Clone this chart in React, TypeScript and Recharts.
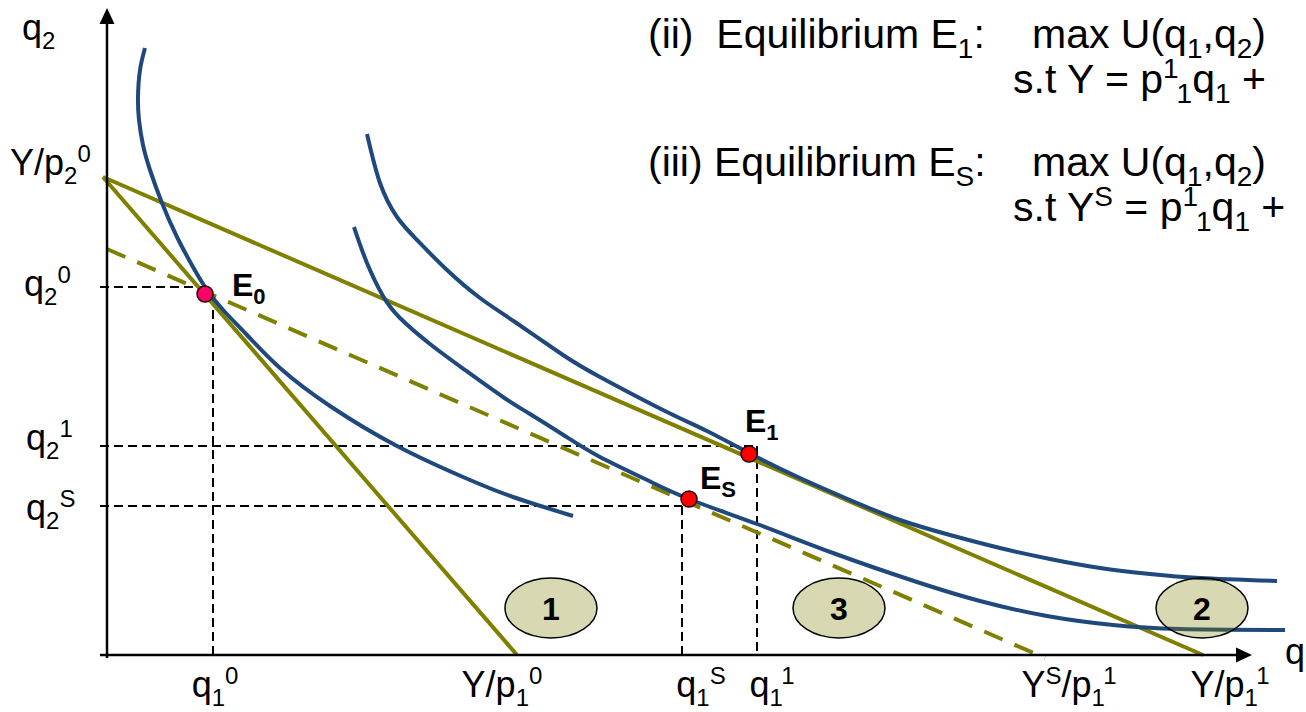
import React from 'react';
import { ComposedChart, Line, Scatter, XAxis, YAxis } from 'recharts';

const W = 1306;
const H = 712;
const X_DOMAIN: [number, number] = [-107, 1199];
const Y_DOMAIN: [number, number] = [-57, 655];
const FONT = '"Liberation Sans", Arial, Helvetica, sans-serif';
const BLUE = '#1F497D';
const OLIVE = '#808000';

// key quantities (chart units, origin where the axes cross)
const Y_OVER_P2_0 = 478;
const Y_OVER_P1_0 = 410;
const Y_OVER_P1_1 = 1096;
const YS_OVER_P1_1 = 938;
const YS_OVER_P2 = 406;
const Q1_0 = 106;
const Q2_0 = 368;
const Q1_1 = 650;
const Q2_1 = 209;
const Q1_S = 575;
const Q2_S = 149;

// indifference curves
const ic0 = [
  [38, 607], [33, 585], [31, 558], [32, 535], [36, 510], [43, 485], [55, 452], [70, 418], [86, 388], [100, 365],
  [117, 344], [140, 320], [173, 287], [223, 249], [290, 209], [356, 178], [406, 158], [466, 139],
];
const icS = [
  [247, 428], [260, 392], [276, 359], [293, 337], [323, 311], [358, 285], [396, 258], [423, 241],
  [458, 219], [493, 198], [538, 176], [582, 156], [650, 131], [726, 102], [810, 73], [873, 54],
  [940, 39], [1006, 30], [1073, 26], [1178, 25],
];
const ic1 = [
  [260, 521], [273, 472], [290, 438], [310, 415], [340, 385], [373, 357], [408, 333], [456, 300],
  [493, 278], [558, 244], [600, 224], [642, 202], [693, 177], [743, 155], [793, 135], [843, 120],
  [893, 107], [943, 96], [993, 87], [1043, 81], [1093, 77], [1170, 74],
];

// budget lines
const budget0 = [[-4, Y_OVER_P2_0], [Y_OVER_P1_0, 0]];
const budget1 = [[-4, Y_OVER_P2_0], [Y_OVER_P1_1, 0]];
const budgetS = [[0, YS_OVER_P2], [YS_OVER_P1_1, -3]];

// projection guides
const guides = [
  [[-7, Q2_0], [100, Q2_0]],
  [[Q1_0, 359], [Q1_0, 0]],
  [[-7, Q2_1], [Q1_1, Q2_1]],
  [[Q1_1, Q2_1], [Q1_1, 0]],
  [[-7, Q2_S], [Q1_S, Q2_S]],
  [[Q1_S, Q2_S], [Q1_S, 0]],
];

// axes
const yAxisLine = [[0, -3], [0, 635]];
const xAxisLine = [[-7, 0], [1133, 0]];
const arrowTips = [{ x: 0, y: 647, dir: 'up' }, { x: 1145, y: 0, dir: 'right' }];

// equilibria
const eqIds = ['E0', 'E1', 'ES'];
const eqX = [98, 642, 582];
const eqY = [361, 201, 156];
const eqText = ['E_0', 'E_1', 'E_S'];
const eqFill = ['#FF0066', '#FF0000', '#FF0000'];
const eqLabelDx = [27, -4, 11];
const eqLabelDy = [2, -22, -10];

// numbered regions
const regionText = ['1', '3', '2'];
const regionX = [444, 732, 1095];
const regionY = [47, 47, 47];

// tick labels
const xTickValues = [Q1_0, Y_OVER_P1_0, Q1_S, Q1_1, YS_OVER_P1_1, Y_OVER_P1_1];
const xTickText = ['q_1^0', 'Y/p_1^0', 'q_1^S', 'q_1^1', 'Y^S/p_1^1', 'Y/p_1^1'];
const xTickDx = [2, -15, 19, 15, 24, 27];
const yTickValues = [Y_OVER_P2_0, Q2_0, Q2_1, Q2_S];
const yTickText = ['Y/p_2^0', 'q_2^0', 'q_2^1', 'q_2^S'];
const yTickDx = [-97, -83, -81, -81];
const yTickDy = [-2, 9, 4, 14];

// annotation text block
const noteText = [
  '(ii)  Equilibrium E_1:', 'max U(q_1,q_2)', 's.t Y = p^1_1q_1 +',
  '(iii) Equilibrium E_S:', 'max U(q_1,q_2)', 's.t Y^S = p^1_1q_1 +',
];
const noteX = [541, 925, 906, 541, 925, 906];
const noteY = [607, 607, 562, 479, 479, 434];

const axisTitles = [
  { x: -85, y: 615, text: 'q_2' },
  { x: 1178, y: -9, text: 'q' },
];

const pts = (a: number[][]) => a.map(([x, y]) => ({ x, y }));

type Seg = [string, 'n' | 'b' | 'p'];
function parse(s: string): Seg[] {
  const out: Seg[] = [];
  let buf = '';
  let i = 0;
  while (i < s.length) {
    const c = s[i];
    if ((c === '_' || c === '^') && i + 1 < s.length) {
      if (buf) { out.push([buf, 'n']); buf = ''; }
      out.push([s[i + 1], c === '_' ? 'b' : 'p']);
      i += 2;
    } else {
      buf += c;
      i += 1;
    }
  }
  if (buf) out.push([buf, 'n']);
  return out;
}

function Rich({ x, y, text, size = 36, bold = false, anchor = 'start' }: any) {
  const small = Math.round(size * 0.68);
  const subOff = size * 0.24;
  const supOff = -size * 0.36;
  let cur = 0;
  const segs = parse(text);
  return (
    <text x={x} y={y} fontFamily={FONT} fontSize={size} fontWeight={bold ? 700 : 400}
      textAnchor={anchor} fill="#000" style={{ whiteSpace: 'pre' }}>
      {segs.map(([t, k], i) => {
        const target = k === 'b' ? subOff : k === 'p' ? supOff : 0;
        const dy = target - cur;
        cur = target;
        return <tspan key={i} dy={dy} fontSize={k === 'n' ? size : small}>{t}</tspan>;
      })}
    </text>
  );
}

const eqData = eqIds.map((id, i) => ({ id, x: eqX[i], y: eqY[i], text: eqText[i], fill: eqFill[i], dx: eqLabelDx[i], dy: eqLabelDy[i] }));
const regionData = regionText.map((t, i) => ({ x: regionX[i], y: regionY[i], text: t }));
const xTickData = xTickValues.map((v, i) => ({ x: v, y: 0, text: xTickText[i], dx: xTickDx[i], dy: 42 }));
const yTickData = yTickValues.map((v, i) => ({ x: 0, y: v, text: yTickText[i], dx: yTickDx[i], dy: yTickDy[i] }));
const noteData = noteText.map((t, i) => ({ x: noteX[i], y: noteY[i], text: t }));

export default function App() {
  return (
    <div style={{ position: 'absolute', left: 0, top: 0, width: W, height: H, background: '#fff' }}>
      <ComposedChart width={W} height={H} margin={{ top: 0, right: 0, bottom: 0, left: 0 }}>
        <XAxis type="number" dataKey="x" domain={X_DOMAIN} allowDataOverflow hide />
        <YAxis type="number" dataKey="y" domain={Y_DOMAIN} allowDataOverflow hide />

        {guides.map((g, i) => (
          <Line key={'g' + i} data={pts(g)} dataKey="y" type="linear" stroke="#000" strokeWidth={2}
            strokeDasharray="9 5" dot={false} activeDot={false} isAnimationActive={false} />
        ))}

        <Line data={pts(budget0)} dataKey="y" type="linear" stroke={OLIVE} strokeWidth={4} dot={false} activeDot={false} isAnimationActive={false} />
        <Line data={pts(budget1)} dataKey="y" type="linear" stroke={OLIVE} strokeWidth={4} dot={false} activeDot={false} isAnimationActive={false} />
        <Line data={pts(budgetS)} dataKey="y" type="linear" stroke={OLIVE} strokeWidth={4} strokeDasharray="20 13" dot={false} activeDot={false} isAnimationActive={false} />

        <Line data={pts(ic0)} dataKey="y" type="natural" stroke={BLUE} strokeWidth={4} dot={false} activeDot={false} isAnimationActive={false} />
        <Line data={pts(icS)} dataKey="y" type="natural" stroke={BLUE} strokeWidth={4} dot={false} activeDot={false} isAnimationActive={false} />
        <Line data={pts(ic1)} dataKey="y" type="natural" stroke={BLUE} strokeWidth={4} dot={false} activeDot={false} isAnimationActive={false} />

        <Line data={pts(yAxisLine)} dataKey="y" type="linear" stroke="#000" strokeWidth={2.5} dot={false} activeDot={false} isAnimationActive={false} />
        <Line data={pts(xAxisLine)} dataKey="y" type="linear" stroke="#000" strokeWidth={2.5} dot={false} activeDot={false} isAnimationActive={false} />
        <Scatter data={arrowTips} isAnimationActive={false}
          shape={(p: any) => {
            const { cx, cy } = p;
            const pointsStr = p.payload.dir === 'up'
              ? `${cx},${cy} ${cx - 7.5},${cy + 16} ${cx + 7.5},${cy + 16}`
              : `${cx},${cy} ${cx - 16},${cy - 7.5} ${cx - 16},${cy + 7.5}`;
            return <polygon points={pointsStr} fill="#000" />;
          }} />

        <Scatter data={regionData} isAnimationActive={false}
          shape={(p: any) => (
            <g>
              <ellipse cx={p.cx} cy={p.cy} rx={46} ry={30} fill="#7D7D02" fillOpacity={0.3} stroke="#000" strokeWidth={1.5} />
              <text x={p.cx} y={p.cy + 12} textAnchor="middle" fontFamily={FONT} fontSize={32} fontWeight={700} fill="#000">{p.payload.text}</text>
            </g>
          )} />

        <Scatter data={eqData} isAnimationActive={false}
          shape={(p: any) => (
            <g>
              <circle cx={p.cx} cy={p.cy} r={8} fill={p.payload.fill} stroke="#2a0000" strokeWidth={1.5} />
              <Rich x={p.cx + p.payload.dx} y={p.cy + p.payload.dy} text={p.payload.text} size={32} bold />
            </g>
          )} />

        <Scatter data={xTickData} isAnimationActive={false}
          shape={(p: any) => <Rich x={p.cx + p.payload.dx} y={p.cy + p.payload.dy} text={p.payload.text} anchor="middle" />} />
        <Scatter data={yTickData} isAnimationActive={false}
          shape={(p: any) => <Rich x={p.cx + p.payload.dx} y={p.cy + p.payload.dy} text={p.payload.text} />} />
        <Scatter data={axisTitles} isAnimationActive={false}
          shape={(p: any) => <Rich x={p.cx} y={p.cy} text={p.payload.text} />} />
        <Scatter data={noteData} isAnimationActive={false}
          shape={(p: any) => <Rich x={p.cx} y={p.cy} text={p.payload.text} size={41} />} />
      </ComposedChart>
    </div>
  );
}
